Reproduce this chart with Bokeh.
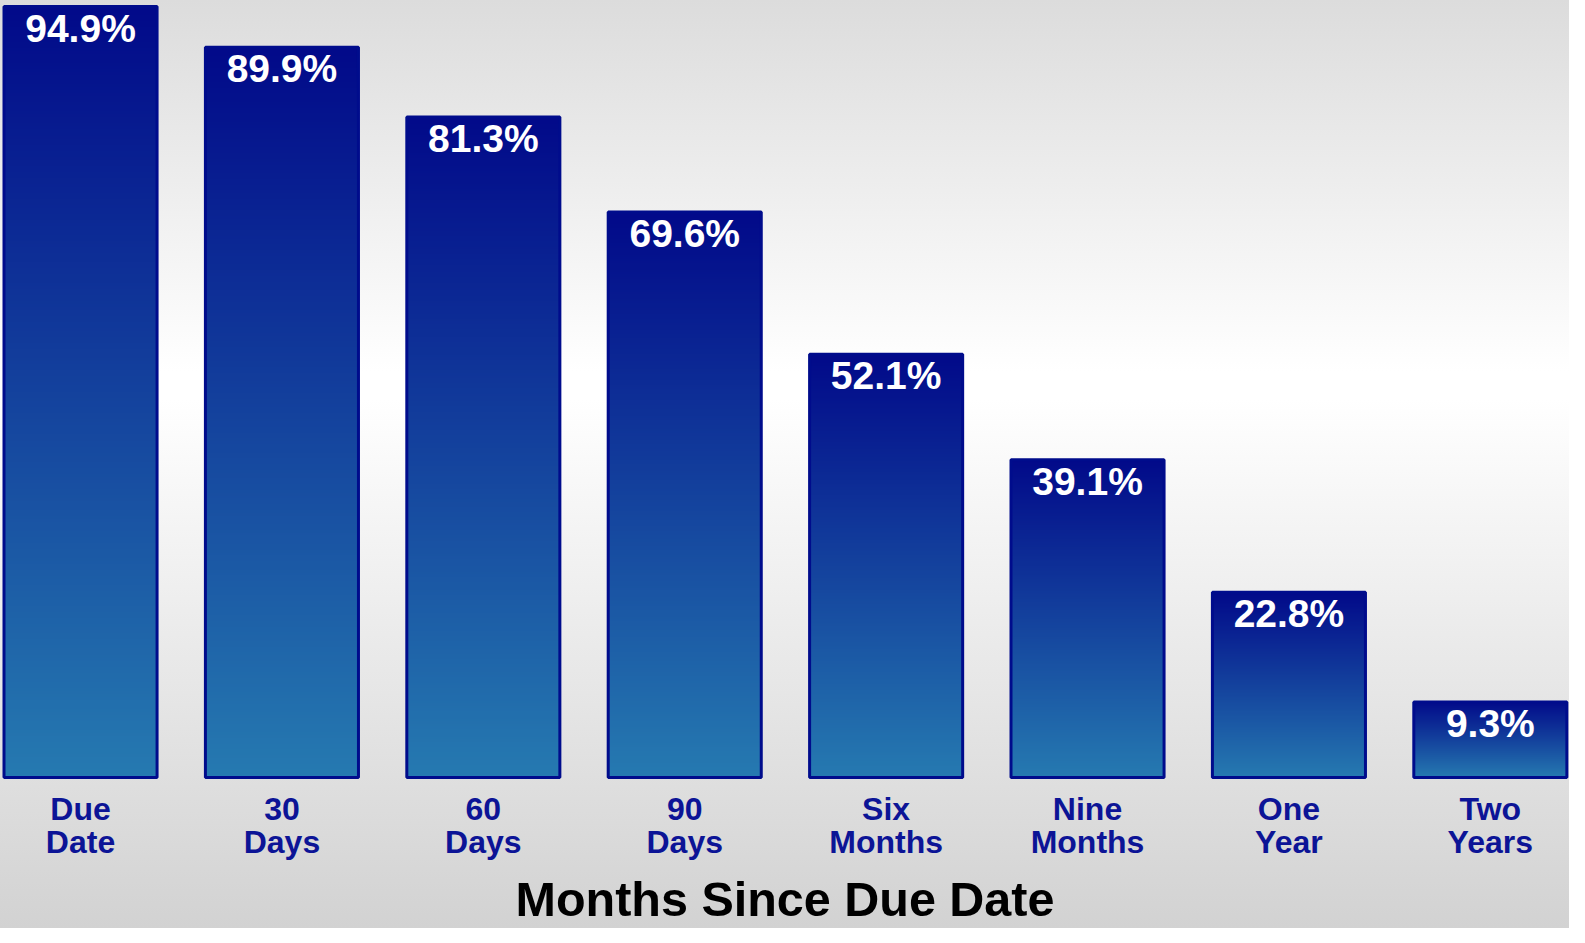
import numpy as np
from bokeh.plotting import figure
from bokeh.models import Range1d, FixedTicker, ColumnDataSource
from bokeh.core.properties import value
from bokeh.embed import file_html
from bokeh.resources import INLINE

# ---- data ----
categories = ["Due\nDate", "30\nDays", "60\nDays", "90\nDays",
              "Six\nMonths", "Nine\nMonths", "One\nYear", "Two\nYears"]
values = [94.9, 89.9, 81.3, 69.6, 52.1, 39.1, 22.8, 9.3]
value_labels = ["94.9%", "89.9%", "81.3%", "69.6%", "52.1%", "39.1%", "22.8%", "9.3%"]
axis_title = "Months Since Due Date"

# ---- style ----
FONT = "Liberation Sans"
BAR_TOP = (2, 10, 138)
BAR_BOTTOM = (38, 122, 177)
OUTLINE = "#000c8c"
LABEL_BLUE = "#0c1496"
BAR_W = 0.76

xs = list(range(len(values)))

p = figure(frame_width=1569, frame_height=779,
           x_range=Range1d(-0.3974, 7.3931), y_range=Range1d(-0.246, 95.64),
           output_backend="svg", toolbar_location=None, y_axis_location=None,
           min_border_left=0, min_border_right=0, min_border_top=0, min_border_bottom=0)
p.styles = {"background": "linear-gradient(to bottom, #dcdcdc 0%, #ffffff 40%, #ffffff 43%, #d2d2d2 100%)"}
p.background_fill_alpha = 0
p.border_fill_alpha = 0
p.outline_line_color = None
p.grid.visible = False

# gradient bars
N = 256
t = np.linspace(0, 1, N)  # 0 bottom -> 1 top
r = (BAR_BOTTOM[0] + (BAR_TOP[0] - BAR_BOTTOM[0]) * t).astype(np.uint32)
g = (BAR_BOTTOM[1] + (BAR_TOP[1] - BAR_BOTTOM[1]) * t).astype(np.uint32)
b = (BAR_BOTTOM[2] + (BAR_TOP[2] - BAR_BOTTOM[2]) * t).astype(np.uint32)
rgba = (r | (g << 8) | (b << 16) | (np.uint32(255) << 24)).reshape(N, 1).astype(np.uint32)

imgs = [rgba for _ in values]
p.image_rgba(image=imgs, x=[x - BAR_W / 2 for x in xs], y=[0] * len(values),
             dw=[BAR_W] * len(values), dh=values)

src = ColumnDataSource(dict(x=xs, top=values, lab=value_labels,
                            left=[x - BAR_W / 2 for x in xs],
                            right=[x + BAR_W / 2 for x in xs]))
p.quad(left="left", right="right", bottom=0, top="top", source=src,
       fill_color=None, line_color=OUTLINE, line_width=3)

p.text(x="x", y="top", text="lab", source=src, text_color="white",
       text_font=value(FONT), text_font_style="bold", text_font_size="39px",
       text_align="center", text_baseline="top", y_offset=0)

ax = p.xaxis[0]
ax.ticker = FixedTicker(ticks=xs)
ax.major_label_overrides = {x: c for x, c in zip(xs, categories)}
ax.axis_line_color = None
ax.major_tick_line_color = None
ax.minor_tick_line_color = None
ax.major_tick_out = 0
ax.major_tick_in = 0
ax.major_label_standoff = 11
ax.major_label_text_font = FONT
ax.major_label_text_font_style = "bold"
ax.major_label_text_font_size = "32px"
ax.major_label_text_color = LABEL_BLUE
ax.major_label_text_line_height = 0.93
ax.axis_label = axis_title
ax.axis_label_text_font = FONT
ax.axis_label_text_font_style = "bold"
ax.axis_label_text_font_size = "48.5px"
ax.axis_label_text_color = "#000000"
ax.axis_label_standoff = 9

open("out.html", "w").write(file_html(p, INLINE))
